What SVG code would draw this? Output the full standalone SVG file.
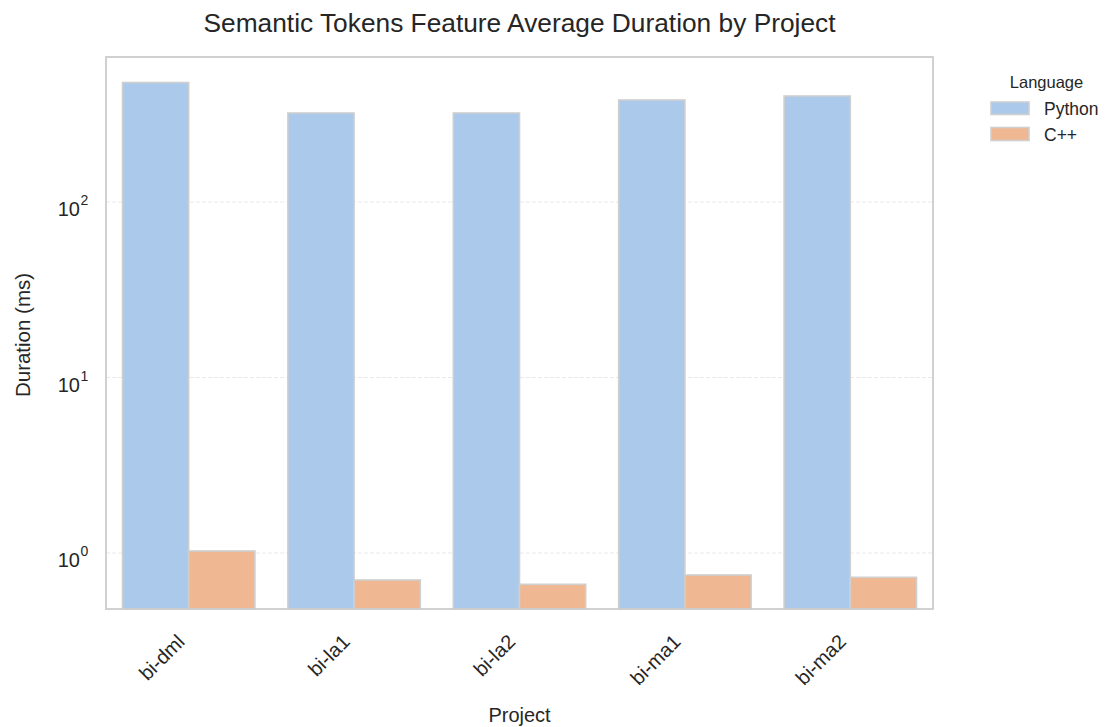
<svg xmlns="http://www.w3.org/2000/svg" width="1105" height="727" viewBox="0 0 1105 727">
<style>
text{font-family:"Liberation Sans",Arial,sans-serif;fill:#262626}
.grid{stroke:#e6e6e6;stroke-width:0.9;stroke-dasharray:4 2;fill:none}
.py{fill:#abc9ea;stroke:#cfcfcf;stroke-width:1.6}
.cpp{fill:#efb792;stroke:#cfcfcf;stroke-width:1.6}
.tick{font-size:20px}
.sup{font-size:14px}
.xt{font-size:20px;text-anchor:end}
</style>
<rect x="0" y="0" width="1105" height="727" fill="#ffffff"/>
<g id="grid">
<line class="grid" x1="106" y1="202" x2="933" y2="202"/>
<line class="grid" x1="106" y1="377.5" x2="933" y2="377.5"/>
<line class="grid" x1="106" y1="553" x2="933" y2="553"/>
</g>
<g id="bars">
<g id="bi-dml"><rect class="py" x="122.5" y="82.5" width="66.2" height="526.5"/><rect class="cpp" x="188.7" y="551" width="66.2" height="58"/></g>
<g id="bi-la1"><rect class="py" x="287.9" y="113" width="66.2" height="496"/><rect class="cpp" x="354.1" y="580" width="66.2" height="29"/></g>
<g id="bi-la2"><rect class="py" x="453.3" y="113" width="66.2" height="496"/><rect class="cpp" x="519.5" y="584.3" width="66.2" height="24.7"/></g>
<g id="bi-ma1"><rect class="py" x="618.7" y="100" width="66.2" height="509"/><rect class="cpp" x="684.9" y="575" width="66.2" height="34"/></g>
<g id="bi-ma2"><rect class="py" x="784.1" y="96" width="66.2" height="513"/><rect class="cpp" x="850.3" y="577.3" width="66.2" height="31.7"/></g>
</g>
<rect id="frame" x="106" y="57" width="827" height="552" fill="none" stroke="#cccccc" stroke-width="1.8"/>
<g id="yticks">
<text class="tick" x="80" y="216" text-anchor="end">10</text><text class="sup" x="80.5" y="205">2</text>
<text class="tick" x="80" y="391.5" text-anchor="end">10</text><text class="sup" x="80.5" y="380.5">1</text>
<text class="tick" x="80" y="567" text-anchor="end">10</text><text class="sup" x="80.5" y="556">0</text>
</g>
<g id="xticks">
<text class="xt" transform="translate(186,643) rotate(-45)">bi-dml</text>
<text class="xt" transform="translate(351.1,643) rotate(-45)">bi-la1</text>
<text class="xt" transform="translate(516.5,643) rotate(-45)">bi-la2</text>
<text class="xt" transform="translate(681.9,643) rotate(-45)">bi-ma1</text>
<text class="xt" transform="translate(847.3,643) rotate(-45)">bi-ma2</text>
</g>
<text id="title" x="519.5" y="32" font-size="26.3" text-anchor="middle">Semantic Tokens Feature Average Duration by Project</text>
<text id="xlabel" x="519.5" y="722" font-size="20" text-anchor="middle">Project</text>
<text id="ylabel" transform="translate(29.5,335) rotate(-90)" font-size="20.5" text-anchor="middle">Duration (ms)</text>
<g id="legend">
<text x="1046.5" y="87.5" font-size="16.5" text-anchor="middle">Language</text>
<rect class="py" x="991" y="102" width="38" height="12.5"/>
<text x="1044" y="115" font-size="17.5">Python</text>
<rect class="cpp" x="991" y="127.5" width="38" height="13"/>
<text x="1044" y="141" font-size="17.5">C++</text>
</g>
</svg>
